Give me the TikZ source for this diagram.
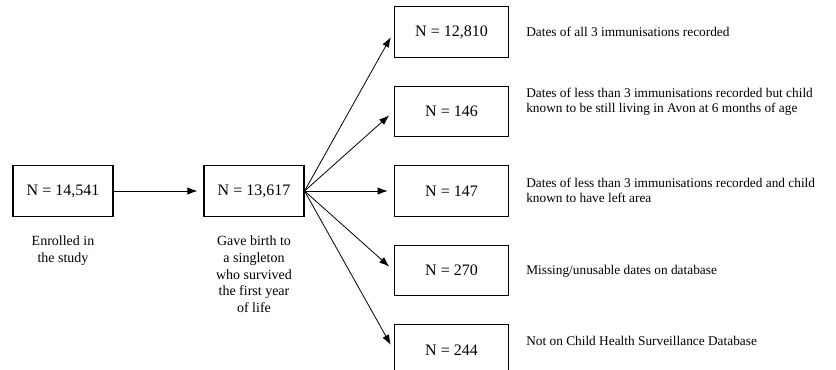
\documentclass[tikz,border=0pt]{standalone}
\usepackage{fontspec}
\setmainfont{Liberation Serif}
\usetikzlibrary{arrows.meta}

\begin{document}
\begin{tikzpicture}[x=0.75pt, y=-0.75pt,
    box/.style={draw, line width=0.8pt, inner sep=0pt, minimum height=38pt, font=\fontsize{12}{14}\selectfont},
    flow/.style={-{Latex[length=7.5pt,width=5.5pt]}, line width=0.6pt, shorten >=4.5pt},
    caption/.style={anchor=north, align=center, inner sep=0pt, font=\fontsize{10.5}{12.4}\selectfont},
    remark/.style={anchor=west, align=left, inner sep=0pt, font=\fontsize{10}{11.25}\selectfont},
    ]
    \useasboundingbox (0,0) rectangle (836,370);
    \clip (0,0) rectangle (836,370);

    \node[box, minimum width=75pt] (N1) at (63,191) {N = 14,541};
    \node[box, minimum width=75pt] (N2) at (254,191) {N = 13,617};
    \draw[flow] (N1.east) -- (N2.west);

    \node[caption] (C1) at (63,236) {Enrolled in\\the study};
    \node[caption] (C2) at (254,236) {Gave birth to\\a singleton\\who survived\\the first year\\of life};

    % outcome boxes
    \foreach \i/\y/\n in {1/32/{12,810}, 2/111.5/146, 3/191/147, 4/270.5/270, 5/350/244}{
        \node[box, minimum width=86pt] (R\i) at (451.5,\y) {N = \n};
        \draw[flow] (N2.east) -- (R\i.west);
    }

    \node[remark] (D1) at (526,32) {Dates of all 3 immunisations recorded};
    \node[remark] (D2) at (526,102) {Dates of less than 3 immunisations recorded but child\\known to be still living in Avon at 6 months of age};
    \node[remark] (D3) at (526,190) {Dates of less than 3 immunisations recorded and child\\known to have left area};
    \node[remark] (D4) at (526,271) {Missing/unusable dates on database};
    \node[remark] (D5) at (526,341) {Not on Child Health Surveillance Database};
\end{tikzpicture}
\end{document}
